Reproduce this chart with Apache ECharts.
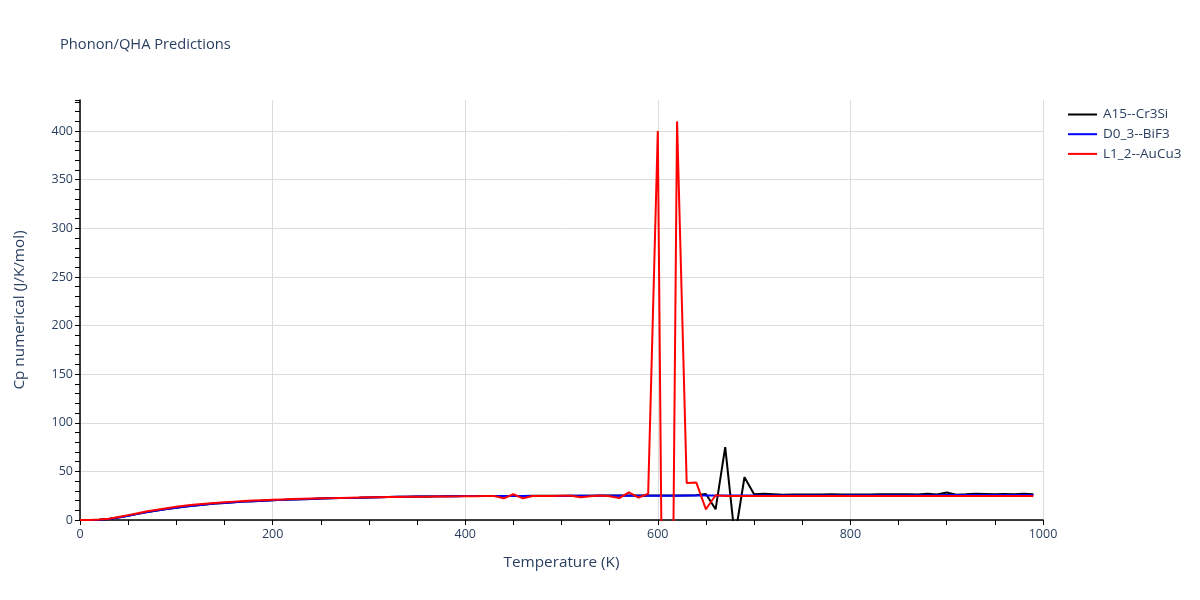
<!DOCTYPE html>
<html>
<head>
<meta charset="utf-8">
<script src="https://cdn.jsdelivr.net/npm/echarts@6/dist/echarts.min.js"></script>
<style>html,body{margin:0;padding:0;background:#fff}#c{width:1200px;height:600px}</style>
</head>
<body>
<div id="c"></div>
<script>
var temperatures = [0,10,20,30,40,50,60,70,80,90,100,110,120,130,140,150,160,170,180,190,200,210,220,230,240,250,260,270,280,290,300,310,320,330,340,350,360,370,380,390,400,410,420,430,440,450,460,470,480,490,500,510,520,530,540,550,560,570,580,590,600,610,620,630,640,650,660,670,680,690,700,710,720,730,740,750,760,770,780,790,800,810,820,830,840,850,860,870,880,890,900,910,920,930,940,950,960,970,980,990];

var cpA15 = [0,0.04,0.35,1.1,2.6,4.4,6.3,8.1,9.8,11.3,12.7,13.9,15.0,16.0,16.9,17.6,18.3,18.9,19.4,19.9,20.3,20.7,21.1,21.4,21.7,22.0,22.3,22.5,22.7,22.9,23.2,23.4,23.6,23.8,23.9,24.1,24.2,24.3,24.4,24.5,24.6,24.6,24.7,24.7,24.8,24.8,24.8,24.9,24.9,24.9,25.0,25.0,25.0,25.0,25.1,25.1,25.1,25.1,25.2,25.2,25.2,25.3,25.3,25.3,25.4,26.7,11.0,75.0,-18.0,44.0,26.5,27.0,26.6,26.0,26.3,26.3,26.3,26.3,26.6,26.3,26.2,26.2,26.3,26.4,26.4,26.5,26.6,26.3,27.0,26.2,28.3,26.0,26.4,27.0,26.8,26.4,26.8,26.5,27.0,26.5];

var cpD03 = [0,0.04,0.35,1.1,2.6,4.4,6.3,8.1,9.8,11.3,12.7,13.9,15.0,16.0,16.9,17.6,18.3,18.9,19.4,19.9,20.3,20.7,21.1,21.4,21.7,22.0,22.3,22.5,22.7,22.9,23.2,23.4,23.6,23.8,23.9,24.1,24.2,24.3,24.4,24.5,24.6,24.6,24.7,24.7,24.7,24.7,24.8,24.8,24.8,24.8,24.8,24.9,24.9,24.9,24.9,24.9,24.9,25.0,25.0,25.0,25.0,25.0,25.0,25.1,25.1,25.1,25.1,25.1,25.1,25.2,25.2,25.2,25.2,25.2,25.3,25.3,25.3,25.3,25.3,25.3,25.4,25.4,25.4,25.4,25.4,25.5,25.5,25.5,25.5,25.5,25.6,25.6,25.6,25.6,25.6,25.7,25.7,25.7,25.7,25.7];

var cpL12 = [0,0.05,0.4,1.3,3.0,5.0,7.0,8.9,10.6,12.2,13.6,14.8,15.9,16.8,17.6,18.3,18.9,19.5,20.0,20.4,20.8,21.2,21.5,21.8,22.1,22.3,22.5,22.7,22.9,23.1,23.3,23.4,23.6,23.7,23.8,23.9,24.0,24.1,24.2,24.3,24.4,24.5,24.6,24.6,22.3,26.5,22.3,24.7,24.8,24.8,24.9,24.9,23.3,24.5,25.2,24.5,22.5,28.5,23.0,27.0,400.0,-700.0,410.0,38.0,38.5,11.0,25.5,24.6,24.6,24.7,24.7,24.7,24.7,24.7,24.7,24.7,24.7,24.7,24.7,24.7,24.7,24.7,24.7,24.7,24.7,24.7,24.7,24.7,24.7,24.7,24.7,24.7,24.7,24.7,24.7,24.7,24.7,24.7,24.7,24.7];

var seriesNames = ['A15--Cr3Si', 'D0_3--BiF3', 'L1_2--AuCu3'];
var seriesColors = ['#000000', '#0000ff', '#ff0000'];
var xTicks = [0, 200, 400, 600, 800, 1000];

function pairs(vals) { return temperatures.map(function (t, i) { return [t, vals[i]]; }); }

var font = '"Open Sans", verdana, arial, sans-serif';
var txt = '#2a3f5f';
var chart = echarts.init(document.getElementById('c'));
var allVals = [cpA15, cpD03, cpL12];

chart.setOption({
  animation: false,
  backgroundColor: '#ffffff',
  textStyle: { fontFamily: font },
  title: {
    text: 'Phonon/QHA Predictions',
    left: 60, top: 37, padding: 0,
    textStyle: { fontFamily: font, fontSize: 14.7, fontWeight: 'normal', color: txt }
  },
  legend: {
    orient: 'vertical',
    left: 1068, top: 107.5, padding: 0,
    icon: 'rect', itemWidth: 29, itemHeight: 2, itemGap: 5.7,
    textStyle: { fontFamily: font, fontSize: 13.5, color: txt, padding: [0, 0, 0, 1] },
    data: seriesNames
  },
  grid: { left: 80, right: 157, top: 100, bottom: 80, containLabel: false },
  xAxis: [{
    type: 'value', min: 0, max: 1000, interval: 200,
    name: 'Temperature (K)', nameLocation: 'middle', nameGap: 35,
    nameTextStyle: { fontFamily: font, fontSize: 15.3, color: txt },
    axisLine: { show: true, onZero: false, lineStyle: { color: '#000', width: 1.5 } },
    axisTick: { show: true, length: 5, lineStyle: { color: '#000' } },
    minorTick: { show: true, splitNumber: 4, length: 5, lineStyle: { color: '#000' } },
    axisLabel: { fontFamily: font, fontSize: 12.5, color: txt, margin: 8,
      formatter: function (v) { return xTicks.indexOf(v) >= 0 ? String(v) : ''; } },
    splitLine: { show: true, lineStyle: { color: '#dcdcdc', width: 1 } }
  }],
  yAxis: [{
    type: 'value', min: 0, max: 432, interval: 50,
    name: 'Cp numerical (J/K/mol)', nameLocation: 'middle', nameGap: 53,
    nameTextStyle: { fontFamily: font, fontSize: 15.3, color: txt },
    axisLine: { show: true, onZero: false, lineStyle: { color: '#000', width: 1.5 } },
    axisTick: { show: false },
    axisLabel: { fontFamily: font, fontSize: 12.5, color: txt, margin: 7, showMaxLabel: false,
      formatter: function (v) { return (v % 50 === 0) ? String(v) : ''; } },
    splitLine: { show: true, showMaxLine: false, lineStyle: { color: '#dcdcdc', width: 1 } }
  }, {
    type: 'value', min: 0, max: 432, interval: 10, position: 'left', offset: 0,
    axisLine: { show: false },
    axisTick: { show: true, length: 5, lineStyle: { color: '#000' } },
    axisLabel: { show: false },
    splitLine: { show: false }
  }],
  series: seriesNames.map(function (n, k) {
    return {
      name: n, type: 'line', data: pairs(allVals[k]), yAxisIndex: 0,
      showSymbol: false, symbol: 'none', clip: true,
      lineStyle: { color: seriesColors[k], width: 2 },
      itemStyle: { color: seriesColors[k] },
      z: 2 + k
    };
  })
});
</script>
</body>
</html>
